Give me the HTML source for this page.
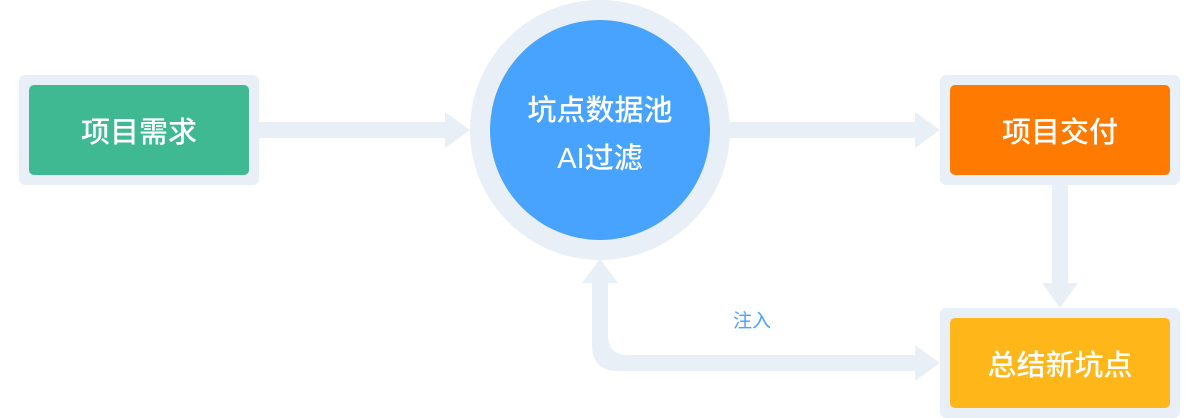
<!DOCTYPE html>
<html><head><meta charset="utf-8"><style>
html,body{margin:0;padding:0;background:#fff;}
body{width:1200px;height:418px;position:relative;overflow:hidden;font-family:"Liberation Sans","Noto Sans CJK SC",sans-serif;}
.o{position:absolute;background:#e8eff6;border-radius:6px;}
.i{position:absolute;border-radius:5px;color:#fff;font-size:29px;font-weight:500;display:flex;align-items:center;justify-content:center;}
.t{position:absolute;color:#fff;font-size:29px;font-weight:500;text-align:center;width:220px;}
</style></head><body>
<svg width="1200" height="418" style="position:absolute;left:0;top:0">
<g fill="#e8eff6">
<circle cx="600" cy="130" r="130"/>
<rect x="259" y="122" width="190" height="16"/>
<polygon points="445,112 470,130 445,148"/>
<rect x="729" y="122" width="190" height="16"/>
<polygon points="915,112 940,130 915,148"/>
<rect x="1052" y="185" width="16" height="100"/>
<polygon points="1042,283 1078,283 1060,308"/>
<polygon points="582,283 618,283 600,259"/>
<path d="M592 280 L592 345 Q592 371 618 371 L920 371 L920 355 L628 355 Q608 355 608 335 L608 280 Z"/>
<polygon points="915,345 940,363 915,381"/>
</g>
<circle cx="600" cy="130" r="110" fill="#48a3fe"/>
</svg>
<div class="o" style="left:19px;top:75px;width:240px;height:110px"></div>
<div class="i" style="left:29px;top:85px;width:220px;height:90px;background:#3fb991">项目需求</div>
<div class="o" style="left:940px;top:75px;width:240px;height:110px"></div>
<div class="i" style="left:950px;top:85px;width:220px;height:90px;background:#ff7a00">项目交付</div>
<div class="o" style="left:940px;top:308px;width:240px;height:110px"></div>
<div class="i" style="left:950px;top:318px;width:220px;height:90px;background:#ffb619">总结新坑点</div>
<div class="t" style="left:490px;top:87px;">坑点数据池</div>
<div class="t" style="left:490px;top:135px;">AI过滤</div>
<div style="position:absolute;left:733px;top:306px;color:#4aa3ff;font-size:19px;">注入</div>
</body></html>
